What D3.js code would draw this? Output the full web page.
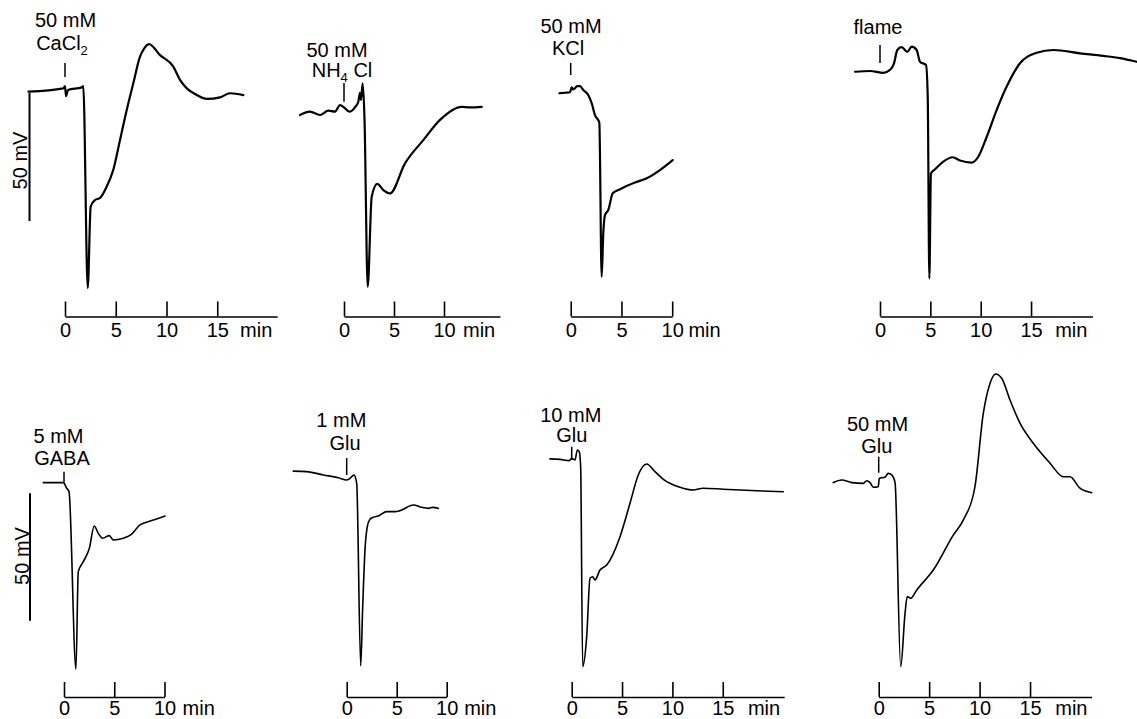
<!DOCTYPE html>
<html><head><meta charset="utf-8">
<script src="https://cdn.jsdelivr.net/npm/d3@7"></script>
<style>
body{margin:0;background:#fff}
svg{display:block}
text{font-family:"Liberation Sans",Arial,Helvetica,sans-serif;fill:#000}
</style>
</head><body>
<svg id="c" width="1137" height="719"></svg>
<script>
// ---------- DATA (time in min, potential in mV relative) ----------
const caclT = [-3.6,-0.17,0,0.1,0.3,1.65,1.8,2.24,2.53,2.96,3.45,4.1,4.76,5.42,6.08,6.73,7.39,7.71,8.28,9.36,10.67,11.33,12,12.98,13.96,15.27,16.26,17.57];
const caclV = [0.5,1.8,2.7,-1.2,1.2,2.2,2.7,-76.2,-44.4,-41.8,-41,-36.6,-30,-18.4,-6.6,3.8,14.2,16.8,19.1,14.8,10.3,5.1,1.8,-0.8,-2.3,-1.7,-0.1,-0.8];

const nh4T = [-4.4,-3.4,-2.4,-1.57,-0.9,-0.4,0,0.53,1.1,1.43,1.6,1.7,1.87,2.05,2.37,2.77,3.33,3.93,4.6,6.1,7.93,9.6,11.77,12.6,13.77];
const nh4V = [-8.6,-7.3,-8.6,-6.9,-7.3,-4.7,-5.6,-7.3,-5.6,-3.4,0.1,-2.7,3.8,-10,-75.7,-40.5,-35.5,-37.9,-39.2,-27.5,-18.4,-10.5,-5.4,-5.6,-5.4];

const kclT = [-1.12,-0.56,-0.07,0.1,0.26,0.65,0.92,1.24,1.73,2.07,2.39,2.82,3.05,3.21,3.38,3.7,4.14,4.86,6.33,7.49,8.79,10.05];
const kclV = [-0.1,0.1,0.3,2.2,1.4,2.7,2.7,1.2,-0.8,-4.0,-8.6,-11.6,-71.8,-54.8,-47.7,-45.7,-39.2,-37.6,-35.0,-33.3,-30.1,-26.2];

const flameT = [-2.48,-0.99,0.33,0.99,1.39,1.72,2.15,2.71,3.15,3.64,3.97,4.57,4.74,4.9,5.06,5.46,6.29,7.22,7.94,9.11,9.76,10.6,11.59,12.58,13.9,15.56,17.21,19.86,22.17,23.83,25.49];
const flameV = [8.3,8.6,7.9,9.0,11.6,16.8,17.9,16.1,18.1,16.8,12.2,10.9,-1.4,-72.4,-31.4,-29.8,-26.8,-25.1,-26.4,-27.2,-24.9,-17.1,-6.6,2.5,11.6,15.7,16.8,15.5,14.5,13.6,12.2];

const gabaT = [-2.06,-0.07,0.27,0.5,1.19,1.42,1.92,2.52,3.01,3.41,3.85,4.51,4.91,5.9,6.74,7.56,8.73,10.05];
const gabaV = [4.2,4.2,2.0,0.6,-69.0,-30.7,-26.8,-21.6,-12.8,-15.7,-17.6,-16.6,-18.3,-17.6,-16.0,-12.4,-10.7,-8.9];

const glu1T = [-5.34,-4.0,-2.34,-0.84,0,0.33,0.73,1.0,1.4,1.6,1.83,2.06,2.33,2.66,3.16,4.0,4.83,5.33,6.66,7.5,8.16,8.6,9.16];
const glu1V = [8.7,8.5,7.2,6.1,5.2,5.9,7.2,3.9,-67.7,-44.5,-22.2,-13.1,-10.2,-9.4,-8.9,-7.2,-7.2,-6.8,-4.6,-5.5,-5.9,-5.5,-5.9];

const glu10T = [-2.15,-1.16,-0.24,0,0.33,0.56,0.75,0.89,1.09,1.49,1.82,2.09,2.31,2.81,3.48,4.8,5.79,6.61,7.45,8.27,9.1,10.75,12.07,13.07,15.05,18.37,21.01];
const glu10V = [13.5,13.3,12.8,13.7,13.1,17.0,16.3,10.4,-68.0,-56.2,-33.3,-32.7,-34.0,-30.1,-28.1,-17.0,-3.9,7.2,11.5,8.5,5.5,2.4,1.3,2.0,1.6,1.0,0.6];

const glu50T = [-4.5,-3.67,-2.68,-1.53,-1.19,-0.86,-0.54,-0.04,0.06,0.62,0.95,1.29,1.62,2.18,2.61,2.83,3.17,3.77,5.41,7.39,8.38,9.54,10.37,11.03,11.6,12.19,13.01,14.0,15.32,16.98,18.3,18.96,19.95,21.11];
const glu50V = [4.2,5.2,4.2,3.9,4.9,4.2,2.4,2.6,5.9,6.3,7.8,7.2,4.2,-68.0,-47.1,-40.5,-41.2,-37.9,-30.1,-16.4,-10.5,2.6,31.4,43.1,46.8,45.1,36.6,27.5,19.6,11.8,6.5,6.5,2.0,0.2];

const ticks15 = [0,5,10,15];
const ticks10 = [0,5,10];
const stimLabels = [
  ["50 mM","CaCl_2"],["50 mM","NH_4 Cl"],["50 mM","KCl"],["flame"],
  ["5 mM","GABA"],["1 mM","Glu"],["10 mM","Glu"],["50 mM","Glu"]
];
const scaleLabel = "50 mV";
const scaleBarMV = 50;
const unitLabel = "min";

// ---------- LAYOUT ----------
const rows = [
  {y0:93, y50:221, axisY:316.5, lw:2.2, barX:29.5, barLabelX:27, barLabelY:160.5, pad:6, minDy:20.3},
  {y0:493.3, y50:620.8, axisY:697, lw:1.6, barX:30, barLabelX:28.5, barLabelY:556, pad:3.5, minDy:17.8}
];
const layout = [
  {row:0, x0:65,    ppm:10.15, tEnd:20.9, ticks:ticks15, minOff:2.25, lab:[[65.5,26.7],[62,50]],   mk:[63,77]},
  {row:0, x0:344,   ppm:10.0,  tEnd:15.6, ticks:ticks10, minOff:1.9,  lab:[[337,56.7],[342,76.7]], mk:[83,101.7]},
  {row:0, x0:570.7, ppm:10.15, tEnd:10.0, ticks:ticks10, minOff:1.6,  lab:[[571,33.3],[568,55]],   mk:[63,75]},
  {row:0, x0:880,   ppm:10.07, tEnd:21.1, ticks:ticks15, minOff:2.4,  lab:[[878,34]],              mk:[45,63]},
  {row:1, x0:64,    ppm:10.05, tEnd:10.0, ticks:ticks10, minOff:1.8,  lab:[[58.5,443],[62,465]],   mk:[471.7,482.7]},
  {row:1, x0:346.7, ppm:10.0,  tEnd:10.0, ticks:ticks10, minOff:1.75, lab:[[341.3,427],[345,450]], mk:[458,475]},
  {row:1, x0:571.7, ppm:10.07, tEnd:21.1, ticks:ticks15, minOff:2.5,  lab:[[570.8,422],[571.7,442]], mk:[446.7,460]},
  {row:1, x0:878.7, ppm:10.09, tEnd:21.1, ticks:ticks15, minOff:2.5,  lab:[[877.5,430.7],[876.7,453]], mk:[456.7,472.7]}
];
const series = [[caclT,caclV],[nh4T,nh4V],[kclT,kclV],[flameT,flameV],[gabaT,gabaV],[glu1T,glu1V],[glu10T,glu10V],[glu50T,glu50V]];

// ---------- DRAW ----------
const svg = d3.select("#c");
const FS_LAB = 20, FS_TICK = 20;

rows.forEach(r => {
  r.y = d3.scaleLinear().domain([-scaleBarMV, 0]).range([r.y50, r.y0]);
  svg.append("line")
    .attr("x1", r.barX).attr("x2", r.barX)
    .attr("y1", r.y(0)).attr("y2", r.y(-scaleBarMV))
    .attr("stroke","#000").attr("stroke-width",2);
  svg.append("text")
    .attr("transform", `translate(${r.barLabelX},${r.barLabelY}) rotate(-90)`)
    .attr("text-anchor","middle")
    .attr("font-size", FS_LAB)
    .text(scaleLabel);
});

layout.forEach((L, i) => {
  const r = rows[L.row];
  const x = d3.scaleLinear().domain([0, L.tEnd]).range([L.x0, L.x0 + L.tEnd * L.ppm]);
  const [T, V] = series[i];
  const pts = T.map((t, k) => [t, V[k]]);

  const line = d3.line().x(d => x(d[0])).y(d => r.y(d[1])).curve(d3.curveMonotoneX);
  svg.append("path").attr("d", line(pts))
    .attr("fill","none").attr("stroke","#000")
    .attr("stroke-width", r.lw).attr("stroke-linejoin","round").attr("stroke-linecap","round");

  // axis
  const ax = d3.axisBottom(x).tickValues(L.ticks).tickSizeInner(-15).tickSizeOuter(0).tickPadding(r.pad).tickFormat(d3.format("d"));
  const g = svg.append("g").attr("transform", `translate(0,${r.axisY})`).call(ax);
  g.attr("font-size", FS_TICK).attr("font-family", null);
  g.selectAll("path.domain").attr("stroke","#000").attr("stroke-width",1.6);
  g.selectAll(".tick line").attr("stroke","#000").attr("stroke-width",1.6);
  g.selectAll(".tick text").attr("fill","#000").style("font-size", FS_TICK + "px");
  const lastTick = L.ticks[L.ticks.length - 1];
  svg.append("text")
    .attr("x", x(lastTick + L.minOff)).attr("y", r.axisY + r.minDy)
    .attr("font-size", FS_TICK)
    .text(unitLabel);

  // stimulus marker
  svg.append("line")
    .attr("x1", x(0)).attr("x2", x(0))
    .attr("y1", L.mk[0]).attr("y2", L.mk[1])
    .attr("stroke","#000").attr("stroke-width",1.5);

  // stimulus labels
  stimLabels[i].forEach((txt, j) => {
    const [cx, by] = L.lab[j];
    const t = svg.append("text").attr("x", cx).attr("y", by)
      .attr("text-anchor","middle").attr("font-size", FS_LAB);
    const parts = txt.split("_");
    t.append("tspan").text(parts[0]);
    for (let p = 1; p < parts.length; p++) {
      const s = parts[p];
      t.append("tspan").attr("dy", 5).attr("font-size", 13).text(s[0]);
      if (s.length > 1) t.append("tspan").attr("dy", -5).text(s.slice(1));
    }
  });
});
</script>
</body></html>
